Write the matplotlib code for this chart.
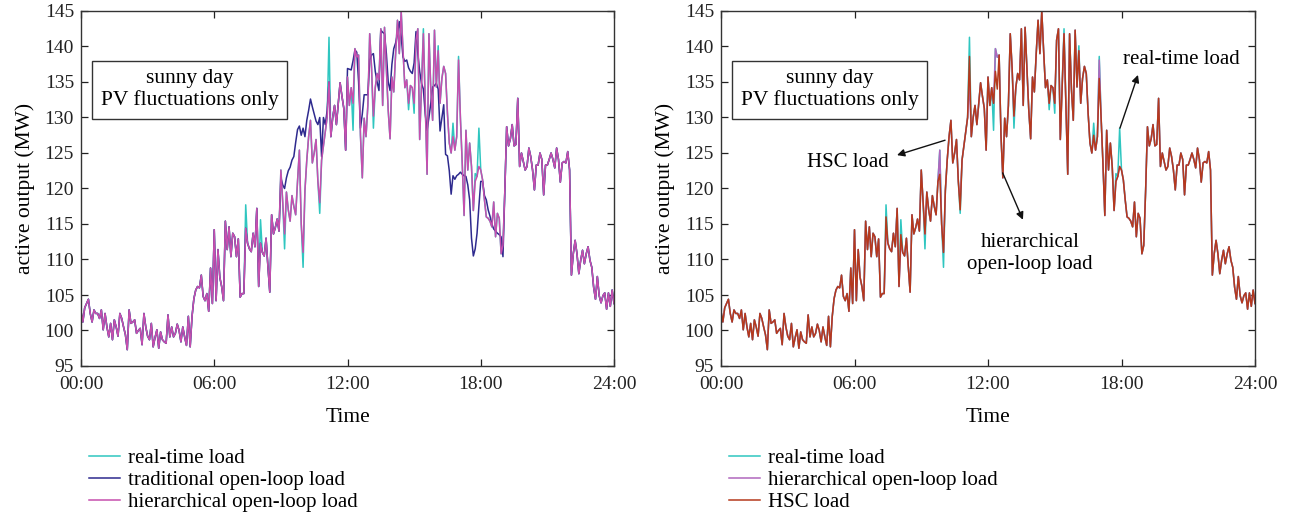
import numpy as np
import matplotlib.pyplot as plt

# =========================
# Data (5-min samples, 00:00 -> 24:00)
# =========================
real_time = [
    102.7, 101.2, 103.2, 103.8, 104.4, 102.4, 101.2, 102.9, 102.4, 102.4, 101.7, 102.9,
    100.1, 102.4, 100.5, 99.1, 101.0, 98.7, 101.5, 100.5, 99.2, 102.4, 101.7, 100.5,
    99.4, 97.3, 102.9, 101.0, 101.2, 101.5, 99.6, 100.0, 100.3, 98.0, 102.4, 100.5,
    99.2, 98.7, 101.0, 97.7, 99.0, 100.1, 97.5, 99.8, 98.7, 98.4, 98.2, 102.2,
    99.1, 100.5, 99.1, 99.6, 100.9, 100.0, 98.4, 100.5, 99.1, 97.9, 102.0, 97.7,
    102.0, 104.5, 105.7, 106.2, 106.0, 107.8, 104.8, 104.2, 105.2, 102.7, 108.8, 103.8,
    114.2, 104.2, 111.4, 107.5, 106.2, 104.2, 115.4, 111.4, 114.6, 110.4, 113.7, 113.2,
    110.4, 112.9, 104.7, 105.2, 105.2, 117.7, 112.3, 111.5, 111.1, 113.7, 111.8, 117.2,
    106.2, 115.6, 111.0, 110.5, 113.0, 109.0, 105.4, 116.3, 113.6, 114.5, 115.7, 114.0,
    122.6, 118.0, 111.5, 119.5, 117.0, 115.4, 119.0, 117.5, 116.3, 121.0, 125.4, 115.0,
    108.9, 119.7, 124.0, 127.3, 129.6, 123.6, 125.0, 126.9, 121.0, 116.5, 124.0, 126.0,
    128.0, 130.0, 141.3, 127.3, 130.0, 131.7, 129.0, 132.0, 134.9, 133.0, 131.3, 125.4,
    135.7, 131.7, 134.2, 128.2, 139.7, 138.5, 138.8, 127.5, 121.5, 129.9, 127.3, 131.7,
    141.8, 137.0, 128.5, 134.2, 136.2, 135.3, 142.5, 131.7, 142.7, 137.0, 131.0, 127.0,
    135.7, 133.6, 139.0, 143.7, 139.0, 145.0, 139.4, 134.2, 135.3, 131.1, 134.5, 134.2,
    130.6, 140.9, 142.5, 126.9, 134.5, 142.5, 132.0, 122.0, 141.8, 134.0, 129.6, 142.3,
    134.3, 140.1, 132.0, 135.5, 137.2, 136.2, 130.6, 126.4, 125.0, 129.2, 125.4, 127.3,
    138.6, 130.0, 123.5, 116.2, 128.2, 122.6, 126.4, 123.1, 116.9, 122.1, 121.7, 128.5,
    122.6, 121.2, 118.4, 116.0, 115.8, 115.4, 114.6, 118.1, 113.2, 116.5, 115.8, 110.8,
    112.0, 119.6, 128.7, 126.0, 127.0, 129.0, 126.0, 126.2, 132.7, 123.1, 125.0, 123.8,
    122.6, 123.1, 125.7, 124.5, 122.6, 119.8, 123.3, 123.3, 125.0, 124.1, 119.1, 123.3,
    123.3, 124.1, 125.0, 124.1, 122.9, 125.7, 124.1, 120.9, 123.6, 123.8, 123.6, 125.2,
    122.6, 107.8, 110.8, 112.7, 110.8, 108.0, 109.9, 111.3, 109.4, 110.8, 111.8, 109.9,
    108.9, 106.1, 104.4, 107.6, 104.9, 103.9, 104.9, 105.3, 103.0, 105.3, 103.4, 105.7,
    103.8,
]

# hierarchical open-loop load: same as real-time except at these samples
hier_points = {89: 114.4, 97: 112.3, 110: 113.6, 120: 111.0, 129: 118.0, 134: 135.0,
               147: 132.0, 158: 130.2, 177: 132.0, 180: 132.0, 185: 141.8, 193: 139.4,
               201: 127.3, 204: 138.1, 213: 121.0, 215: 123.1}

# traditional open-loop load: differs from hierarchical in two stretches
trad_start_a = 108
trad_seg_a = [121.5, 120.5, 120.0, 121.5, 122.5, 123.0, 124.0, 124.5, 126.5, 128.3,
              128.8, 127.5, 128.5, 127.3, 129.6, 131.0, 132.6, 131.5, 130.5, 129.5,
              129.0, 130.0, 124.5, 130.0, 129.0, 131.0]
trad_start_b = 144
trad_seg_b = [136.9, 136.8, 136.7, 138.0, 139.5, 139.2, 135.0, 128.5, 130.5, 133.2,
              133.2, 133.2, 138.1, 138.8, 139.0, 136.5, 135.0, 133.8, 142.3, 142.0,
              141.8, 139.0, 135.0, 133.8, 137.5, 139.7, 140.5, 141.8, 143.5, 141.4,
              138.5, 137.9, 138.1, 137.0, 136.5, 136.2, 137.7, 142.1, 139.0, 136.5,
              134.8, 134.0, 130.5, 128.2, 130.0, 132.0, 134.3, 134.5, 134.8, 134.0,
              128.1, 130.0, 131.8, 124.8, 124.6, 122.5, 119.2, 121.8, 121.3, 121.8,
              122.0, 122.3, 122.0, 121.8, 121.7, 120.5, 118.4, 113.0, 110.5, 111.5,
              113.7, 117.5, 121.0, 121.0, 119.0, 118.4, 117.0, 116.1, 115.0, 114.3,
              114.0, 113.7, 113.5, 113.2, 110.4]

# HSC load: same as hierarchical except at these samples
hsc_points = {89: 116.0, 97: 113.5, 118: 122.0, 129: 117.0, 134: 138.6, 148: 136.5,
              149: 134.0, 201: 127.5, 204: 135.5}

time_hours = np.arange(len(real_time)) / 12.0

hierarchical = list(real_time)
for k, v in hier_points.items():
    hierarchical[k] = v

traditional = list(hierarchical)
traditional[trad_start_a:trad_start_a + len(trad_seg_a)] = trad_seg_a
traditional[trad_start_b:trad_start_b + len(trad_seg_b)] = trad_seg_b

hsc = list(hierarchical)
for k, v in hsc_points.items():
    hsc[k] = v

# =========================
# Style
# =========================
plt.rcParams.update({
    "font.family": ["Liberation Serif", "DejaVu Serif"],
    "font.size": 14,
    "axes.linewidth": 1.0,
    "axes.edgecolor": "#333333",
    "xtick.direction": "in",
    "ytick.direction": "in",
    "xtick.top": True,
    "ytick.right": True,
    "xtick.labelsize": 14,
    "ytick.labelsize": 14,
})

c_real = "#2fc6c0"
c_trad = "#2e2a8e"
c_hier = "#c64fae"
c_hier_r = "#b067bd"
c_hsc = "#b5391c"

fig = plt.figure(figsize=(12.97, 5.17), dpi=100)
ax1 = fig.add_axes([81 / 1297, 151 / 517, 533 / 1297, 355 / 517])
ax2 = fig.add_axes([721 / 1297, 151 / 517, 534 / 1297, 355 / 517])

lw = 1.1
ax1.plot(time_hours, real_time, color=c_real, lw=lw, label="real-time load")
ax1.plot(time_hours, traditional, color=c_trad, lw=lw, label="traditional open-loop load")
ax1.plot(time_hours, hierarchical, color=c_hier, lw=lw, label="hierarchical open-loop load")

ax2.plot(time_hours, real_time, color=c_real, lw=lw, label="real-time load")
ax2.plot(time_hours, hierarchical, color=c_hier_r, lw=lw, label="hierarchical open-loop load")
ax2.plot(time_hours, hsc, color=c_hsc, lw=lw, label="HSC load")

for ax in (ax1, ax2):
    ax.set_xlim(0, 24)
    ax.set_ylim(95, 145)
    ax.set_xticks([0, 6, 12, 18, 24])
    ax.set_xticklabels(["00:00", "06:00", "12:00", "18:00", "24:00"])
    ax.set_yticks(np.arange(95, 146, 5))
    ax.tick_params(axis="x", length=5, width=0.9, colors="#222222", pad=7)
    ax.tick_params(axis="y", length=5, width=0.9, colors="#222222", pad=5)
    ax.set_xlabel("Time", fontsize=15.5, labelpad=11)
    ax.set_ylabel("active output (MW)", fontsize=15.5, labelpad=7)
    ax.text(0.204, 0.778, "sunny day\nPV fluctuations only", transform=ax.transAxes,
            ha="center", va="center", fontsize=15.5, linespacing=1.15,
            bbox=dict(boxstyle="square,pad=0.4", facecolor="white",
                      edgecolor="#333333", linewidth=1.0))
    ax.legend(loc="upper left", bbox_to_anchor=(0.0, -0.21), frameon=False,
              fontsize=15, handlelength=1.45, handletextpad=0.4,
              labelspacing=0.1, borderaxespad=0)

# annotations on the right panel
arrow = dict(arrowstyle="-|>", color="#111111", lw=1.0, mutation_scale=11,
             shrinkA=0, shrinkB=0)
ax2.annotate("", xy=(18.74, 136.0), xytext=(17.93, 128.5), arrowprops=arrow)
ax2.text(20.67, 138.2, "real-time load", ha="center", va="center", fontsize=15)
ax2.annotate("", xy=(7.91, 124.7), xytext=(10.07, 126.8), arrowprops=arrow)
ax2.text(5.71, 123.7, "HSC load", ha="center", va="center", fontsize=15)
ax2.annotate("", xy=(13.57, 115.6), xytext=(12.66, 122.2), arrowprops=arrow)
ax2.text(13.89, 110.9, "hierarchical\nopen-loop load", ha="center", va="center",
         fontsize=15, linespacing=1.2)

fig.savefig("out.png", dpi=100)
